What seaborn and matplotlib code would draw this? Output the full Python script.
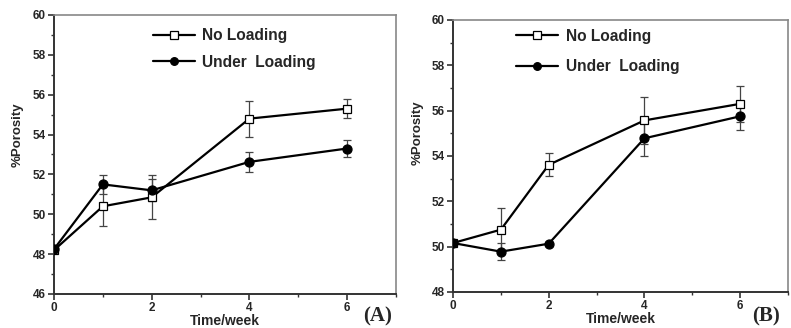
import matplotlib
matplotlib.use("Agg")
import matplotlib.pyplot as plt
from matplotlib.ticker import MultipleLocator
import seaborn as sns
import pandas as pd

sns.set_theme(style="ticks")
plt.rcParams['font.family'] = ['Liberation Sans', 'DejaVu Sans']
plt.rcParams['font.weight'] = 'bold'

weeks = [0, 1, 2, 4, 6]
series_names = ["No Loading", "Under  Loading"]

# Panel A
a_no = [48.2, 50.4, 50.85, 54.8, 55.3]
a_no_err = [0.0, 1.0, 1.1, 0.9, 0.47]
a_under = [48.25, 51.5, 51.2, 52.63, 53.3]
a_under_err = [0.0, 0.47, 0.55, 0.5, 0.45]

# Panel B
b_no = [50.16, 50.75, 53.61, 55.57, 56.3]
b_no_err = [0.0, 0.95, 0.5, 1.05, 0.8]
b_under = [50.16, 49.78, 50.13, 54.78, 55.75]
b_under_err = [0.0, 0.38, 0.08, 0.8, 0.62]

panel_labels = ["(A)", "(B)"]
x_label = "Time/week"
y_label = "%Porosity"

fig = plt.figure(figsize=(7.91, 3.28), dpi=100)
axA = fig.add_axes([0.0683, 0.1037, 0.4323, 0.8506])
axB = fig.add_axes([0.5727, 0.1098, 0.4235, 0.8293])

styles = [
    dict(marker="s", mfc="white", mec="black", ms=6),
    dict(marker="o", mfc="black", mec="black", ms=6.5),
]

tick_family = ['Liberation Sans Narrow', 'Liberation Sans', 'DejaVu Sans']

def draw(ax, no, no_err, under, under_err, ylim, leg_anchor, lspace):
    for name, vals, errs, st in zip(series_names, [no, under], [no_err, under_err], styles):
        df = pd.DataFrame({"x": weeks, "y": vals})
        ax.errorbar(weeks, vals, yerr=errs, fmt="none", ecolor="#444444",
                    elinewidth=0.9, capsize=3, capthick=0.9, zorder=2)
        sns.lineplot(data=df, x="x", y="y", ax=ax, color="black", lw=1.6,
                     marker=st["marker"], markersize=st["ms"],
                     markerfacecolor=st["mfc"], markeredgecolor=st["mec"],
                     markeredgewidth=0.9, label=name, zorder=3)
    ax.set_xlim(0, 7)
    ax.set_ylim(*ylim)
    ax.xaxis.set_major_locator(MultipleLocator(2))
    ax.xaxis.set_minor_locator(MultipleLocator(1))
    ax.yaxis.set_major_locator(MultipleLocator(2))
    ax.yaxis.set_minor_locator(MultipleLocator(1))
    ax.tick_params(which="major", length=4, width=1.2, labelsize=8.5, pad=2, color="#333333")
    ax.tick_params(which="minor", length=2.5, width=1.0, color="#333333")
    ax.set_xticks([0, 2, 4, 6])
    for s in ["left", "bottom"]:
        ax.spines[s].set_linewidth(1.4)
        ax.spines[s].set_color("#333333")
    for s in ["top", "right"]:
        ax.spines[s].set_linewidth(1.2)
        ax.spines[s].set_color("#888888")
    for lab in ax.get_xticklabels() + ax.get_yticklabels():
        lab.set_fontweight("bold")
        lab.set_family(tick_family)
    ax.set_xlabel(x_label, fontsize=10, fontweight="bold", labelpad=0)
    ax.set_ylabel(y_label, fontsize=9.5, fontweight="bold")
    leg = ax.legend(loc="upper left", bbox_to_anchor=leg_anchor, frameon=False,
                    fontsize=11.2, handlelength=2.7, handletextpad=0.5,
                    labelspacing=lspace, borderaxespad=0, markerscale=0.85)
    for t in leg.get_texts():
        t.set_fontweight("bold")

draw(axA, a_no, a_no_err, a_under, a_under_err, (46, 60), (0.27, 0.975), 0.75)
draw(axB, b_no, b_no_err, b_under, b_under_err, (48, 60), (0.17, 0.99), 0.98)
axA.yaxis.set_label_coords(-0.088, 0.57)
axB.yaxis.set_label_coords(-0.087, 0.585)

fig.text(0.477, 0.035, panel_labels[0], fontsize=15, fontweight="bold",
         family=["Liberation Serif", "DejaVu Serif"], ha="center", va="center")
fig.text(0.968, 0.035, panel_labels[1], fontsize=15, fontweight="bold",
         family=["Liberation Serif", "DejaVu Serif"], ha="center", va="center")

fig.savefig("out.png", dpi=100)
